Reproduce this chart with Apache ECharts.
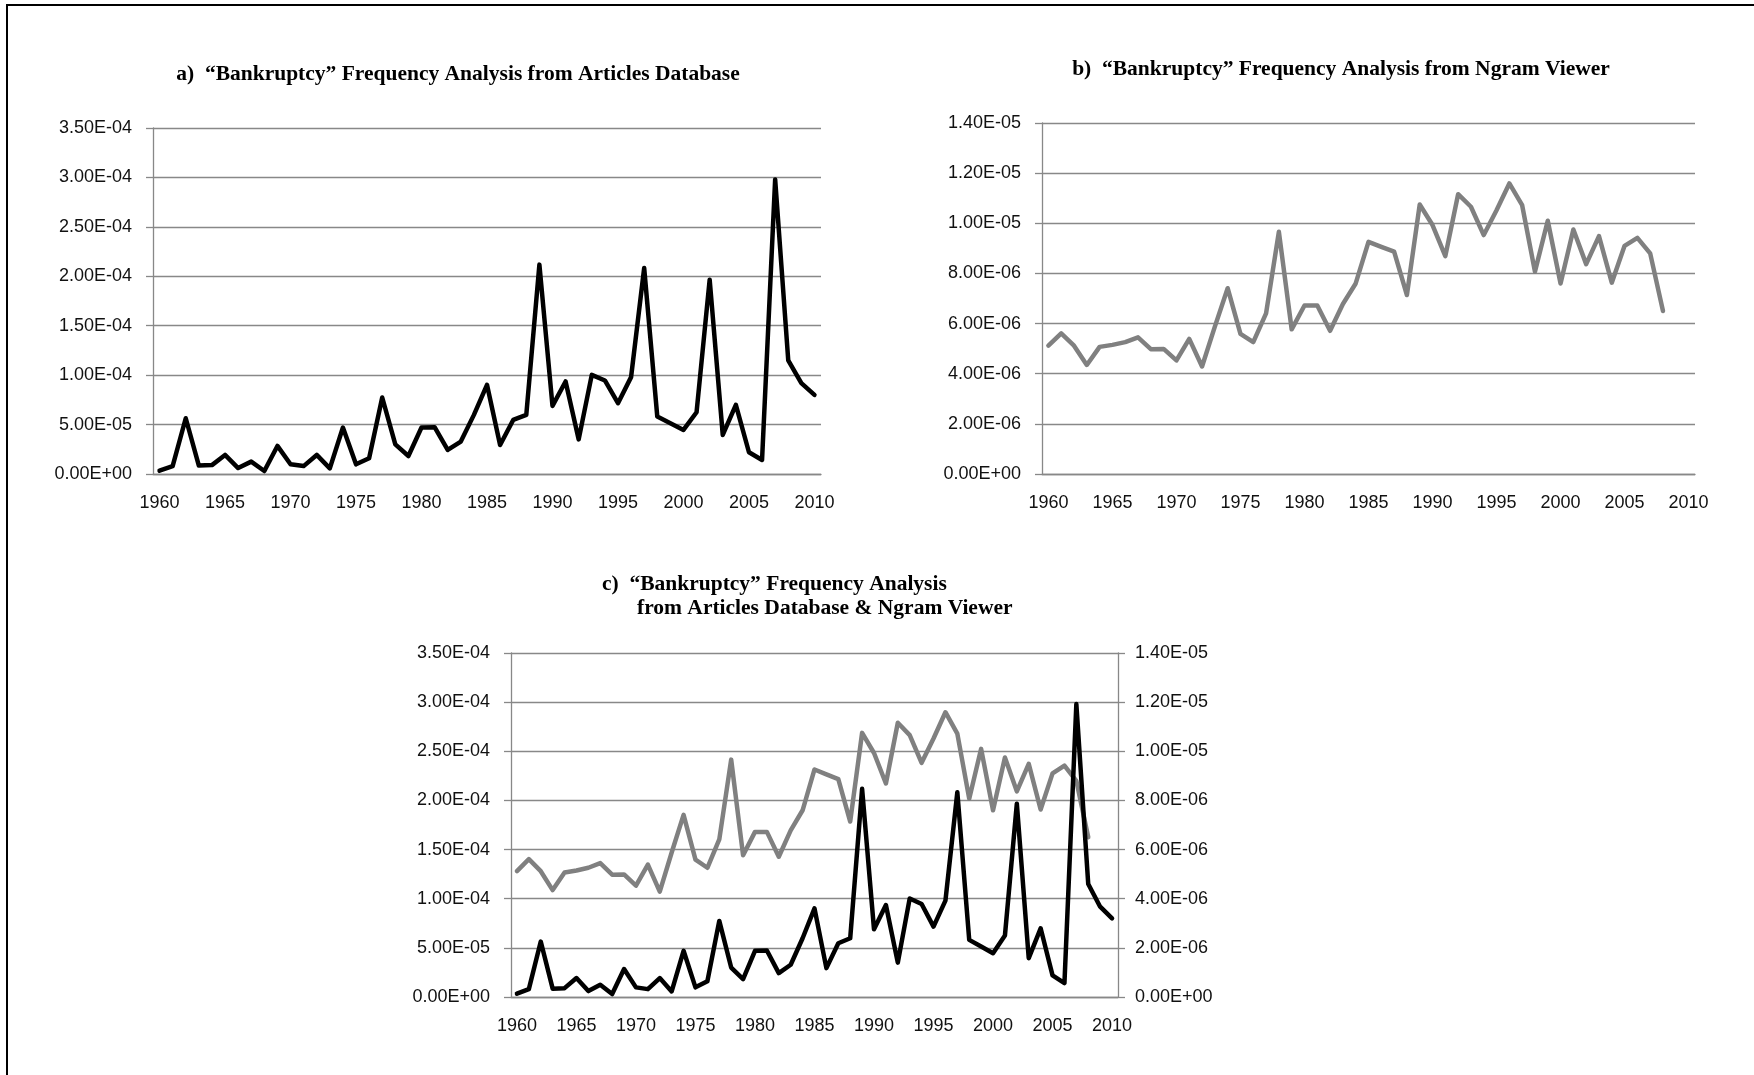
<!DOCTYPE html>
<html>
<head>
<meta charset="utf-8">
<title>Bankruptcy Frequency Analysis</title>
<script src="https://cdn.jsdelivr.net/npm/echarts@6/dist/echarts.min.js"></script>
<style>
  html, body { margin: 0; padding: 0; background: #fff; }
  #main { width: 1754px; height: 1075px; }
</style>
</head>
<body>
<div id="main"></div>
<script>
const years = [
  '1960', '1961', '1962', '1963', '1964', '1965', '1966', '1967', '1968', '1969',
  '1970', '1971', '1972', '1973', '1974', '1975', '1976', '1977', '1978', '1979',
  '1980', '1981', '1982', '1983', '1984', '1985', '1986', '1987', '1988', '1989',
  '1990', '1991', '1992', '1993', '1994', '1995', '1996', '1997', '1998', '1999',
  '2000', '2001', '2002', '2003', '2004', '2005', '2006', '2007', '2008', '2009',
  '2010'
]

// articles database frequency, 1960-2010
const articles = [
  3.4e-6, 8.0e-6, 5.64e-5, 8.5e-6, 9.0e-6, 1.93e-5, 6.0e-6, 1.25e-5, 3.0e-6, 2.84e-5,
  9.8e-6, 8.0e-6, 1.93e-5, 5.7e-6, 4.70e-5, 9.8e-6, 1.60e-5, 7.74e-5, 3.00e-5, 1.82e-5,
  4.70e-5, 4.73e-5, 2.43e-5, 3.28e-5, 5.98e-5, 9.02e-5, 2.94e-5, 5.47e-5, 5.98e-5, 2.118e-4,
  6.89e-5, 9.36e-5, 3.50e-5, 1.003e-4, 9.46e-5, 7.16e-5, 9.80e-5, 2.084e-4, 5.81e-5, 5.14e-5,
  4.46e-5, 6.25e-5, 1.966e-4, 3.95e-5, 6.99e-5, 2.20e-5, 1.42e-5, 2.98e-4, 1.149e-4, 9.19e-5,
  8.00e-5
]

// ngram viewer frequency, 1960-2008
const ngram = [
  5.12e-6, 5.61e-6, 5.12e-6, 4.35e-6, 5.07e-6, 5.15e-6, 5.26e-6, 5.45e-6, 4.98e-6, 4.99e-6,
  4.53e-6, 5.39e-6, 4.29e-6, 5.88e-6, 7.41e-6, 5.59e-6, 5.26e-6, 6.41e-6, 9.66e-6, 5.77e-6,
  6.72e-6, 6.72e-6, 5.71e-6, 6.78e-6, 7.60e-6, 9.26e-6, 9.06e-6, 8.87e-6, 7.14e-6, 1.075e-5,
  9.93e-6, 8.69e-6, 1.116e-5, 1.066e-5, 9.53e-6, 1.052e-5, 1.159e-5, 1.072e-5, 8.07e-6, 1.01e-5,
  7.60e-6, 9.75e-6, 8.37e-6, 9.49e-6, 7.63e-6, 9.10e-6, 9.42e-6, 8.80e-6, 6.50e-6
]

const articlesTicks = { min: 0, max: 3.5e-4, interval: 5e-5 }
const ngramTicks = { min: 0, max: 1.4e-5, interval: 2e-6 }

const gridGray = '#888888'
const labelFont = { fontFamily: 'Liberation Sans', fontSize: 18, color: '#111' }
const titleFont = { fontFamily: 'Liberation Serif', fontWeight: 'bold', fontSize: 21.5, color: '#000' }

const sci = v => {
  const s = Number(v).toExponential(2).toUpperCase()
  const [m, e] = s.split('E')
  const sign = e[0] === '-' ? '-' : '+'
  const digits = e.replace(/[+-]/, '').padStart(2, '0')
  return m + 'E' + sign + digits
}

const xAxisFor = gridIndex => ({
  type: 'category',
  gridIndex,
  data: years,
  boundaryGap: true,
  axisLine: { lineStyle: { color: gridGray, width: 1.3 } },
  axisTick: { interval: 0, alignWithLabel: false, length: 6, lineStyle: { color: gridGray, width: 1.3 } },
  axisLabel: Object.assign({ interval: 4, margin: 20 }, labelFont),
  splitLine: { show: false }
})

const yAxisFor = (gridIndex, ticks, position, grid) => ({
  type: 'value',
  gridIndex,
  position,
  min: ticks.min,
  max: ticks.max,
  interval: ticks.interval,
  axisLine: { show: true, lineStyle: { color: gridGray, width: 1.3 } },
  axisTick: { show: true, length: 7, lineStyle: { color: gridGray, width: 1.3 } },
  axisLabel: Object.assign({ margin: position === 'right' ? 17 : 21, formatter: sci }, labelFont),
  splitLine: { show: grid, lineStyle: { color: gridGray, width: 1.3 } }
})

const lineSeries = (name, data, color, xi, yi, z) => ({
  name,
  type: 'line',
  xAxisIndex: xi,
  yAxisIndex: yi,
  data,
  symbol: 'none',
  z,
  lineStyle: { color, width: 4.5, join: 'round', cap: 'round' }
})

const chart = echarts.init(document.getElementById('main'), null, { renderer: 'canvas' })
chart.setOption({
  animation: false,
  backgroundColor: '#fff',
  title: [
    { text: 'a)  \u201cBankruptcy\u201d Frequency Analysis from Articles Database', left: 458, top: 63, textAlign: 'center', padding: 0, textStyle: titleFont },
    { text: 'b)  \u201cBankruptcy\u201d Frequency Analysis from Ngram Viewer', left: 1341, top: 58, textAlign: 'center', padding: 0, textStyle: titleFont },
    { text: 'c)  \u201cBankruptcy\u201d Frequency Analysis', left: 602, top: 573, padding: 0, textStyle: titleFont },
    { text: 'from Articles Database & Ngram Viewer', left: 637, top: 597, padding: 0, textStyle: titleFont }
  ],
  grid: [
    { left: 153, top: 128, width: 668, height: 346 },
    { left: 1042, top: 123, width: 653, height: 351 },
    { left: 511, top: 653, width: 607, height: 344 }
  ],
  xAxis: [xAxisFor(0), xAxisFor(1), xAxisFor(2)],
  yAxis: [
    yAxisFor(0, articlesTicks, 'left', true),
    yAxisFor(1, ngramTicks, 'left', true),
    yAxisFor(2, articlesTicks, 'left', true),
    yAxisFor(2, ngramTicks, 'right', false)
  ],
  series: [
    lineSeries('Articles Database', articles, '#000000', 0, 0, 3),
    lineSeries('Ngram Viewer', ngram, '#808080', 1, 1, 3),
    lineSeries('Ngram Viewer', ngram, '#808080', 2, 3, 2),
    lineSeries('Articles Database', articles, '#000000', 2, 2, 4)
  ],
  graphic: [
    { type: 'rect', shape: { x: 6, y: 4, width: 1748, height: 2 }, style: { fill: '#000' } },
    { type: 'rect', shape: { x: 6, y: 4, width: 2, height: 1071 }, style: { fill: '#000' } }
  ]
})
</script>
</body>
</html>
